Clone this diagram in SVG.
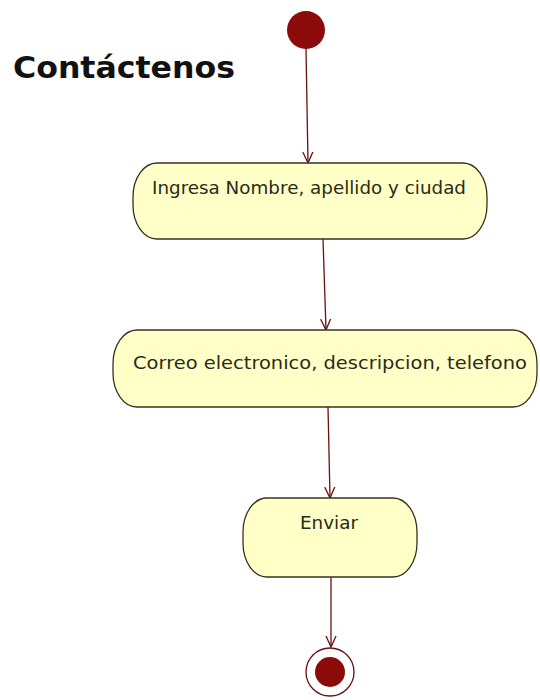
<svg xmlns="http://www.w3.org/2000/svg" width="540" height="700" viewBox="0 0 540 700">
<style>
.act{fill:#ffffc8;stroke:#3a3020;stroke-width:1.3}
.lbl{font-family:"DejaVu Sans",sans-serif;font-size:17px;fill:#2a2a18;text-anchor:middle}
.edge{stroke:#6a1010;stroke-width:1.3;fill:none}
</style>
<defs>
<marker id="arr" viewBox="0 0 12 12" refX="11" refY="6" markerWidth="12" markerHeight="12" markerUnits="userSpaceOnUse" orient="auto">
<path d="M0,1 L11,6 L0,11" fill="none" stroke="#6a1010" stroke-width="1.3"/>
</marker>
</defs>
<rect width="540" height="700" fill="#ffffff"/>
<text x="13" y="78" font-family="'DejaVu Sans',sans-serif" font-weight="bold" font-size="30" fill="#111" textLength="222" lengthAdjust="spacingAndGlyphs">Contáctenos</text>
<g id="connectors">
<line class="edge" x1="306" y1="48" x2="308" y2="163" marker-end="url(#arr)"/>
<line class="edge" x1="323" y1="239" x2="326" y2="330" marker-end="url(#arr)"/>
<line class="edge" x1="328" y1="407" x2="330" y2="498" marker-end="url(#arr)"/>
<line class="edge" x1="331" y1="577" x2="331" y2="647" marker-end="url(#arr)"/>
</g>
<g id="start">
<circle cx="306" cy="30" r="19" fill="#8b0a0a"/>
</g>
<g id="action1">
<rect class="act" x="133" y="163" width="354" height="76" rx="24" ry="34"/>
<text class="lbl" x="309" y="194" textLength="314" lengthAdjust="spacingAndGlyphs">Ingresa Nombre, apellido y ciudad</text>
</g>
<g id="action2">
<rect class="act" x="113" y="330" width="424" height="77" rx="24" ry="34"/>
<text class="lbl" x="330" y="369" textLength="394" lengthAdjust="spacingAndGlyphs">Correo electronico, descripcion, telefono</text>
</g>
<g id="action3">
<rect class="act" x="243" y="498" width="174" height="79" rx="24" ry="34"/>
<text class="lbl" x="329" y="529" textLength="58" lengthAdjust="spacingAndGlyphs">Enviar</text>
</g>
<g id="end">
<circle cx="330" cy="672" r="24" fill="#ffffff" stroke="#6a1010" stroke-width="1.3"/>
<circle cx="330" cy="672" r="15" fill="#8b0a0a"/>
</g>
</svg>
